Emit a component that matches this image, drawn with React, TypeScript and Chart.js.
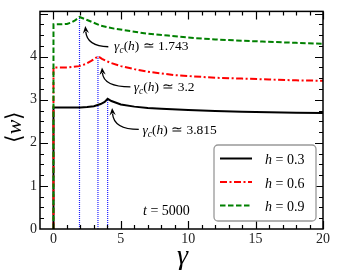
import React, { useEffect, useRef } from "react";
import { Chart, registerables } from "chart.js";
Chart.register(...registerables);

// ---- data ----
const gammaH03 = [0, 0, 1, 2, 2.5, 3, 3.5, 3.8, 4.02, 4.3, 5, 6, 7, 8, 10, 12, 14, 16, 18, 20];
const wH03 = [0, 2.82, 2.82, 2.82, 2.83, 2.85, 2.9, 2.95, 3.02, 2.97, 2.89, 2.84, 2.81, 2.79, 2.76, 2.74, 2.72, 2.71, 2.7, 2.69];

const gammaH06 = [0, 0, 0.5, 1, 1.9, 2.4, 2.8, 3.1, 3.3, 3.6, 4.2, 5, 6, 7, 8, 9, 10, 12, 14, 16, 18, 20];
const wH06 = [0, 3.75, 3.75, 3.75, 3.78, 3.83, 3.9, 3.96, 4.01, 3.95, 3.86, 3.78, 3.71, 3.65, 3.61, 3.57, 3.55, 3.51, 3.49, 3.47, 3.45, 3.44];

const gammaH09 = [0, 0, 0.5, 1, 1.3, 1.6, 1.93, 2.5, 3.5, 4.5, 6, 7, 8.5, 10.5, 12, 14, 15.5, 18, 20];
const wH09 = [0, 4.75, 4.75, 4.76, 4.79, 4.84, 4.92, 4.85, 4.72, 4.65, 4.58, 4.53, 4.49, 4.43, 4.4, 4.37, 4.35, 4.32, 4.3];

const hLabels = ["0.3", "0.6", "0.9"];
const peakGamma = [4.02, 3.3, 1.93];
const peakW = [3.02, 4.01, 4.92];
const peakLabels = ["3.815", "3.2", "1.743"];
const timeLabel = "5000";

const xTickLabels = [0, 5, 10, 15, 20];
const yTickLabels = [0, 1, 2, 3, 4];

// annotation placement in data coordinates: text anchor, arrow start, control, tip
const annotationText = [
  [6.6, 2.2],
  [5.95, 3.2],
  [4.5, 4.15],
];
const annotationArrow = [
  [[6.33, 2.31], [4.47, 2.31], [4.35, 2.81]],
  [[5.71, 3.3], [3.72, 3.3], [3.6, 3.75]],
  [[4.07, 4.23], [2.49, 4.24], [2.36, 4.71]],
];

const SERIF = '"Liberation Serif", "Times New Roman", serif';

type Run = { t: string; it?: boolean; sub?: boolean };

function runsWidth(ctx: CanvasRenderingContext2D, runs: Run[], size: number) {
  let w = 0;
  for (const r of runs) {
    const s = r.sub ? size * 0.7 : size;
    ctx.font = `${r.it ? "italic " : ""}${s}px ${SERIF}`;
    w += ctx.measureText(r.t).width;
  }
  return w;
}

function drawRuns(ctx: CanvasRenderingContext2D, runs: Run[], x: number, y: number, size: number) {
  let cx = x;
  for (const r of runs) {
    const s = r.sub ? size * 0.7 : size;
    ctx.font = `${r.it ? "italic " : ""}${s}px ${SERIF}`;
    ctx.fillText(r.t, cx, y + (r.sub ? size * 0.22 : 0));
    cx += ctx.measureText(r.t).width;
  }
}

const styles = [
  { color: "#000000", dash: [] as number[] },
  { color: "#ff0000", dash: [7, 2.5, 2, 2.5] },
  { color: "#008000", dash: [5.5, 2.5] },
];

const decorPlugin = {
  id: "decor",
  afterDatasetsDraw(chart: any) {
    const ctx: CanvasRenderingContext2D = chart.ctx;
    const xs = chart.scales.x;
    const ys = chart.scales.y;
    const { left, right, top, bottom } = chart.chartArea;
    ctx.save();
    // frame
    ctx.strokeStyle = "#000";
    ctx.lineWidth = 1.5;
    ctx.strokeRect(left, top, right - left, bottom - top);
    // ticks
    ctx.lineWidth = 1.2;
    ctx.beginPath();
    for (let v = 0; v <= 20; v += 1) {
      const px = Math.round(xs.getPixelForValue(v)) + 0.5;
      const len = v % 5 === 0 ? 8 : 4;
      ctx.moveTo(px, bottom);
      ctx.lineTo(px, bottom - len);
      ctx.moveTo(px, top);
      ctx.lineTo(px, top + len);
    }
    for (let k = 1; k <= 20; k += 1) {
      const v = k * 0.25;
      const py = Math.round(ys.getPixelForValue(v)) + 0.5;
      if (py < top + 1) continue;
      const len = k % 4 === 0 ? 8 : 4;
      ctx.moveTo(left, py);
      ctx.lineTo(left + len, py);
      ctx.moveTo(right, py);
      ctx.lineTo(right - len, py);
    }
    ctx.stroke();

    // annotations
    ctx.fillStyle = "#000";
    ctx.textBaseline = "alphabetic";
    ctx.textAlign = "left";
    for (let i = 0; i < annotationArrow.length; i++) {
      const [a, c, b] = annotationArrow[i];
      const ax = xs.getPixelForValue(a[0]), ay = ys.getPixelForValue(a[1]);
      const cx = xs.getPixelForValue(c[0]), cy = ys.getPixelForValue(c[1]);
      const bx = xs.getPixelForValue(b[0]), by = ys.getPixelForValue(b[1]);
      const ang = Math.atan2(by - cy, bx - cx);
      const hl = 8;
      const sx = bx - Math.cos(ang) * hl * 0.7;
      const sy = by - Math.sin(ang) * hl * 0.7;
      ctx.strokeStyle = "#000";
      ctx.lineWidth = 1.3;
      ctx.beginPath();
      ctx.moveTo(ax, ay);
      ctx.quadraticCurveTo(cx, cy, sx, sy);
      ctx.stroke();
      ctx.beginPath();
      ctx.moveTo(bx, by);
      ctx.lineTo(bx - Math.cos(ang - 0.4) * hl, by - Math.sin(ang - 0.4) * hl);
      ctx.lineTo(bx - Math.cos(ang) * hl * 0.6, by - Math.sin(ang) * hl * 0.6);
      ctx.lineTo(bx - Math.cos(ang + 0.4) * hl, by - Math.sin(ang + 0.4) * hl);
      ctx.closePath();
      ctx.fill();

      const t = annotationText[i];
      const tx = xs.getPixelForValue(t[0]);
      const ty = ys.getPixelForValue(t[1]);
      drawRuns(
        ctx,
        [
          { t: "γ", it: true },
          { t: "c", it: true, sub: true },
          { t: "(" },
          { t: "h", it: true },
          { t: ")" },
          { t: " ≃ " + peakLabels[i] },
        ],
        tx,
        ty,
        13.5
      );
    }

    // t = 5000
    drawRuns(ctx, [{ t: "t", it: true }, { t: " = " + timeLabel }], left + 103, bottom - 14, 14);

    // legend
    const lx = right - 109, ly = bottom - 84, lw = 102, lh = 76;
    ctx.beginPath();
    ctx.roundRect(lx, ly, lw, lh, 4);
    ctx.fillStyle = "#fff";
    ctx.fill();
    ctx.strokeStyle = "#999";
    ctx.lineWidth = 1.3;
    ctx.stroke();
    for (let i = 0; i < 3; i++) {
      const ry = ly + 13.5 + i * 23.5;
      ctx.strokeStyle = styles[i].color;
      ctx.lineWidth = 2;
      ctx.setLineDash(styles[i].dash);
      ctx.beginPath();
      ctx.moveTo(lx + 6, ry);
      ctx.lineTo(lx + 38, ry);
      ctx.stroke();
      ctx.setLineDash([]);
      ctx.fillStyle = "#000";
      drawRuns(ctx, [{ t: "h", it: true }, { t: " = " + hLabels[i] }], lx + 51, ry + 5.5, 14);
    }

    // axis titles
    ctx.fillStyle = "#000";
    ctx.font = `italic 28px ${SERIF}`;
    ctx.textAlign = "center";
    ctx.fillText("γ", (left + right) / 2 + 1, 264);

    ctx.save();
    ctx.translate(15, 127);
    ctx.rotate(-Math.PI / 2);
    ctx.textAlign = "left";
    ctx.textBaseline = "middle";
    const yr: Run[] = [{ t: "⟨" }, { t: "w", it: true }, { t: "⟩" }];
    const yw = runsWidth(ctx, yr, 22);
    drawRuns(ctx, yr, -yw / 2, 0, 22);
    ctx.restore();

    ctx.restore();
  },
};

export default function App() {
  const ref = useRef<HTMLCanvasElement | null>(null);
  useEffect(() => {
    if (!ref.current) return;
    const series = [
      [gammaH03, wH03],
      [gammaH06, wH06],
      [gammaH09, wH09],
    ];
    const datasets: any[] = series.map(([g, w], i) => ({
      data: g.map((x, j) => ({ x, y: w[j] })),
      borderColor: styles[i].color,
      borderDash: styles[i].dash,
      borderWidth: 2,
      pointRadius: 0,
      tension: 0,
      fill: false,
      order: 3 - i,
    }));
    peakGamma.forEach((p, i) => {
      datasets.push({
        data: [
          { x: p, y: 0 },
          { x: p, y: peakW[i] },
        ],
        borderColor: "#1f1fff",
        borderDash: [1, 1],
        borderWidth: 1.2,
        pointRadius: 0,
        fill: false,
        order: 5,
      });
    });
    const chart = new Chart(ref.current, {
      type: "line",
      data: { datasets },
      options: {
        animation: false,
        responsive: false,
        layout: { padding: { top: 6, right: 14, left: 0, bottom: 0 } },
        plugins: { legend: { display: false }, tooltip: { enabled: false } },
        scales: {
          x: {
            type: "linear",
            min: -1,
            max: 20,
            grid: { display: false, drawTicks: false },
            border: { display: false },
            afterBuildTicks: (s: any) => {
              s.ticks = xTickLabels.map((v) => ({ value: v }));
            },
            afterFit: (s: any) => {
              s.height = 49;
            },
            ticks: {
              padding: 2,
              autoSkip: false,
              maxRotation: 0,
              color: "#222",
              font: { family: SERIF, size: 14 },
            },
          },
          y: {
            type: "linear",
            min: 0,
            max: 5.05,
            grid: { display: false, drawTicks: false },
            border: { display: false },
            afterBuildTicks: (s: any) => {
              s.ticks = yTickLabels.map((v) => ({ value: v }));
            },
            afterFit: (s: any) => {
              s.width = 40;
            },
            ticks: {
              padding: 3,
              color: "#222",
              font: { family: SERIF, size: 14 },
            },
          },
        },
      } as any,
      plugins: [decorPlugin],
    });
    return () => chart.destroy();
  }, []);
  return (
    <div style={{ position: "absolute", left: 0, top: 0, width: 337, height: 278, background: "#fff" }}>
      <canvas ref={ref} width={337} height={278} style={{ display: "block" }} />
    </div>
  );
}
